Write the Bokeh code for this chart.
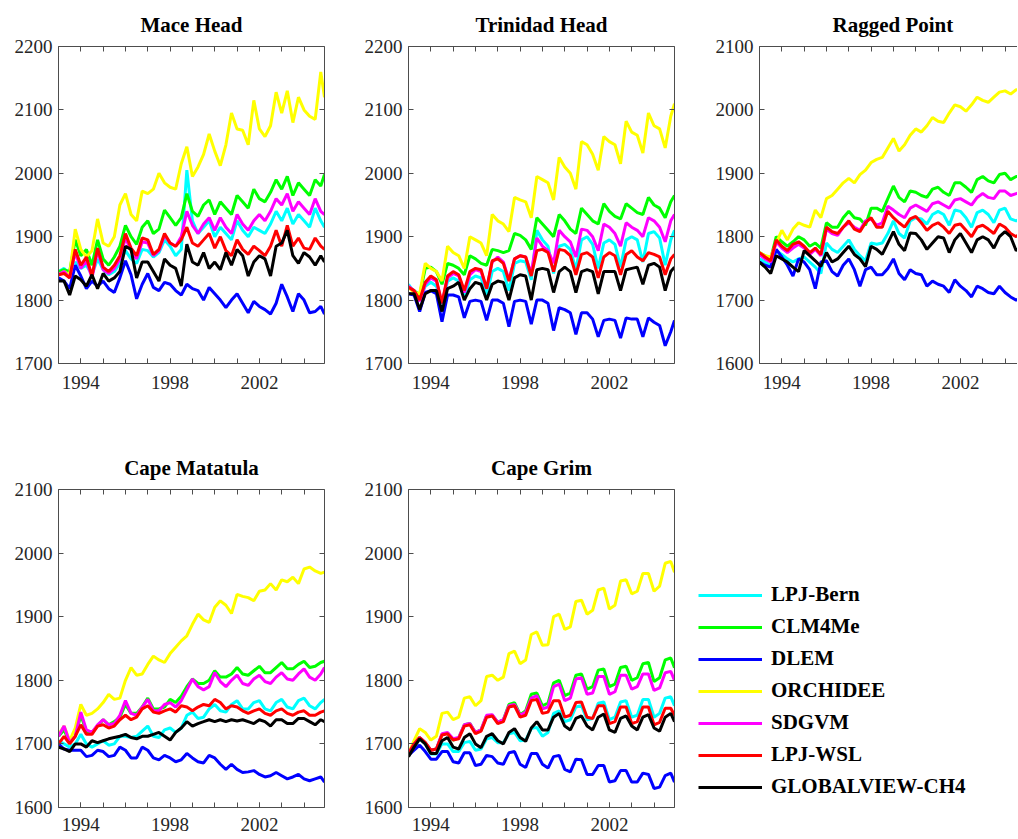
from bokeh.plotting import figure
from bokeh.layouts import column, row
from bokeh.models import (Range1d, LinearAxis, FixedTicker, Legend, LegendItem, Grid,
                          CustomLabelingPolicy)
from bokeh.embed import file_html
from bokeh.resources import INLINE

# ---------------- data (quarterly samples, ppb) ----------------
T = [1993.0, 1993.25, 1993.5, 1993.75, 1994.0, 1994.25, 1994.5, 1994.75,
     1995.0, 1995.25, 1995.5, 1995.75, 1996.0, 1996.25, 1996.5, 1996.75,
     1997.0, 1997.25, 1997.5, 1997.75, 1998.0, 1998.25, 1998.5, 1998.75,
     1999.0, 1999.25, 1999.5, 1999.75, 2000.0, 2000.25, 2000.5, 2000.75,
     2001.0, 2001.25, 2001.5, 2001.75, 2002.0, 2002.25, 2002.5, 2002.75,
     2003.0, 2003.25, 2003.5, 2003.75, 2004.0, 2004.25, 2004.5, 2004.75,
     2004.917]

MODELS = ["LPJ-Bern", "CLM4Me", "DLEM", "ORCHIDEE", "SDGVM", "LPJ-WSL", "GLOBALVIEW-CH4"]
COLORS = ["#00FFFF", "#00FF00", "#0000FF", "#FFFF00", "#FF00FF", "#FF0000", "#000000"]
STATIONS = ["Mace Head", "Trinidad Head", "Ragged Point", "Cape Matatula", "Cape Grim"]
Y_LIMITS = [(1700, 2200), (1700, 2200), (1600, 2100), (1600, 2100), (1600, 2100)]
X_TICKS = [1994, 1998, 2002]
YEAR_TICKS = [1993, 1994, 1995, 1996, 1997, 1998, 1999, 2000, 2001, 2002, 2003, 2004]

# Mace Head
MH_CYAN = [1845,1850,1840,1860, 1850,1855,1840,1865, 1848,1840,1845,1858, 1878,1865,1858,1880, 1878,1868,1875,1895, 1885,1870,1880,2005, 1925,1905,1915,1925, 1900,1915,1905,1895, 1925,1910,1900,1915, 1910,1905,1920,1940, 1925,1945,1920,1935, 1925,1915,1945,1925, 1915]
MH_GREEN = [1845,1848,1845,1895, 1870,1880,1855,1895, 1865,1855,1868,1885, 1918,1900,1888,1915, 1925,1905,1912,1942, 1930,1918,1930,1968, 1940,1932,1950,1958, 1935,1955,1945,1935, 1965,1955,1945,1975, 1960,1955,1970,1990, 1975,1995,1965,1985, 1975,1965,1990,1980, 1998]
MH_BLUE = [1835,1830,1818,1855, 1838,1818,1830,1822, 1830,1818,1812,1835, 1862,1840,1802,1825, 1842,1820,1815,1828, 1825,1815,1808,1825, 1818,1815,1800,1820, 1810,1800,1788,1800, 1810,1795,1780,1798, 1790,1785,1778,1795, 1825,1805,1782,1810, 1800,1780,1782,1790, 1778]
MH_YELLOW = [1840,1845,1840,1912, 1880,1868,1878,1928, 1890,1885,1900,1950, 1968,1935,1925,1972, 1968,1975,2000,1985, 1978,1975,2015,2042, 1995,2010,2030,2062, 2035,2012,2045,2095, 2070,2068,2045,2115, 2070,2058,2075,2128, 2095,2130,2080,2120, 2100,2090,2085,2160, 2120]
MH_MAGENTA = [1840,1845,1835,1875, 1850,1862,1835,1878, 1848,1842,1850,1865, 1898,1878,1865,1892, 1890,1870,1878,1902, 1890,1885,1900,1940, 1918,1905,1920,1930, 1910,1930,1915,1905, 1935,1920,1910,1925, 1935,1925,1940,1960, 1950,1968,1940,1955, 1945,1935,1960,1940, 1935]
MH_RED = [1840,1842,1835,1880, 1855,1868,1838,1882, 1852,1845,1855,1870, 1905,1882,1870,1898, 1895,1872,1880,1905, 1890,1885,1895,1915, 1890,1885,1895,1905, 1882,1900,1878,1870, 1895,1880,1872,1885, 1878,1870,1885,1910, 1885,1918,1885,1898, 1882,1880,1898,1885, 1880]
MH_BLACK = [1830,1830,1808,1838, 1832,1822,1840,1818, 1842,1830,1835,1845, 1885,1880,1835,1860, 1860,1845,1830,1865, 1855,1850,1822,1888, 1860,1855,1875,1850, 1860,1848,1875,1855, 1880,1870,1838,1860, 1870,1865,1838,1885, 1890,1910,1870,1858, 1875,1868,1855,1870, 1860]

# Trinidad Head
TH_CYAN = [1825,1812,1800,1822, 1828,1822,1795,1830, 1835,1830,1805,1832, 1838,1835,1808,1845, 1850,1845,1815,1858, 1862,1860,1832,1910, 1895,1885,1842,1885, 1888,1880,1848,1895, 1900,1888,1850,1890, 1895,1888,1852,1895, 1900,1895,1860,1905, 1908,1898,1855,1895, 1910]
TH_GREEN = [1820,1815,1808,1850, 1852,1845,1825,1858, 1855,1850,1840,1870, 1865,1858,1855,1880, 1878,1875,1878,1905, 1902,1895,1880,1930, 1920,1910,1900,1935, 1925,1912,1905,1945, 1935,1925,1920,1952, 1940,1932,1928,1952, 1945,1938,1935,1962, 1950,1945,1930,1955, 1965]
TH_BLUE = [1810,1808,1782,1812, 1815,1810,1766,1808, 1808,1805,1772,1798, 1800,1798,1768,1800, 1800,1795,1758,1798, 1800,1798,1762,1800, 1800,1795,1752,1788, 1785,1780,1746,1780, 1780,1770,1742,1768, 1770,1768,1740,1772, 1770,1770,1742,1772, 1765,1760,1728,1750, 1768]
TH_YELLOW = [1820,1812,1810,1858, 1850,1845,1830,1885, 1875,1870,1850,1900, 1895,1890,1870,1935, 1925,1920,1908,1962, 1958,1955,1930,1995, 1990,1985,1958,2025, 2010,2000,1975,2050, 2045,2030,2005,2058, 2050,2045,2015,2082, 2065,2060,2032,2095, 2075,2070,2040,2090, 2110]
TH_MAGENTA = [1822,1815,1798,1825, 1835,1830,1795,1835, 1842,1838,1812,1840, 1848,1845,1818,1860, 1868,1860,1832,1865, 1870,1868,1842,1898, 1885,1878,1858,1910, 1900,1892,1868,1912, 1910,1900,1878,1920, 1915,1905,1885,1922, 1915,1910,1900,1930, 1925,1915,1892,1925, 1935]
TH_RED = [1820,1815,1800,1828, 1838,1832,1795,1838, 1845,1840,1815,1845, 1850,1848,1818,1862, 1865,1858,1830,1865, 1870,1868,1838,1878, 1880,1875,1845,1880, 1878,1870,1840,1872, 1875,1868,1835,1868, 1875,1870,1840,1872, 1878,1868,1862,1875, 1872,1868,1840,1865, 1872]
TH_BLACK = [1810,1810,1785,1810, 1815,1815,1782,1818, 1822,1828,1800,1818, 1828,1825,1800,1825, 1830,1828,1800,1835, 1840,1838,1800,1848, 1850,1848,1812,1845, 1852,1845,1812,1845, 1848,1845,1810,1845, 1845,1845,1815,1848, 1850,1852,1825,1855, 1858,1852,1815,1845, 1852]

# Ragged Point
RP_CYAN = [1765,1760,1755,1778, 1772,1765,1760,1765, 1768,1760,1752,1742, 1790,1780,1775,1785, 1795,1780,1770,1762, 1790,1788,1790,1805, 1825,1805,1798,1825, 1830,1828,1820,1835, 1840,1835,1818,1842, 1840,1830,1815,1838, 1842,1835,1822,1842, 1845,1828,1825,1830, 1828]
RP_GREEN = [1775,1770,1765,1800, 1792,1785,1792,1800, 1795,1785,1790,1782, 1822,1815,1815,1830, 1840,1830,1828,1818, 1845,1845,1840,1860, 1880,1862,1855,1872, 1870,1865,1862,1875, 1878,1870,1865,1885, 1885,1878,1870,1890, 1895,1888,1885,1898, 1900,1890,1895,1895, 1892]
RP_BLUE = [1760,1755,1752,1780, 1768,1755,1738,1765, 1760,1748,1718,1760, 1762,1745,1738,1755, 1765,1748,1722,1748, 1752,1740,1740,1750, 1765,1742,1732,1748, 1742,1740,1722,1730, 1725,1722,1712,1732, 1722,1715,1705,1722, 1718,1712,1710,1722, 1712,1705,1700,1705, 1700]
RP_YELLOW = [1775,1770,1768,1790, 1810,1795,1812,1822, 1818,1815,1842,1830, 1860,1865,1875,1885, 1892,1885,1898,1905, 1917,1922,1925,1940, 1955,1935,1945,1960, 1970,1965,1975,1988, 1982,1980,1995,2008, 2005,1998,2008,2020, 2015,2012,2020,2028, 2030,2025,2032,2030, 2035]
RP_MAGENTA = [1772,1765,1760,1792, 1782,1775,1782,1788, 1782,1772,1780,1770, 1812,1805,1802,1815, 1822,1815,1810,1825, 1828,1818,1822,1848, 1842,1835,1830,1845, 1850,1845,1840,1852, 1855,1850,1845,1858, 1860,1855,1850,1862, 1868,1862,1860,1872, 1872,1865,1868,1870, 1868]
RP_RED = [1775,1768,1762,1795, 1785,1778,1788,1792, 1785,1775,1782,1772, 1815,1808,1805,1815, 1825,1812,1808,1822, 1830,1815,1815,1840, 1830,1822,1815,1828, 1832,1822,1810,1818, 1822,1815,1805,1818, 1820,1810,1800,1815, 1818,1812,1805,1820, 1815,1805,1800,1808, 1805]
RP_BLACK = [1760,1752,1742,1770, 1765,1760,1752,1745, 1778,1770,1762,1753, 1775,1760,1765,1775, 1785,1772,1765,1753, 1785,1780,1772,1790, 1808,1788,1778,1806, 1805,1795,1780,1790, 1800,1798,1775,1795, 1805,1790,1775,1795, 1800,1795,1782,1800, 1808,1800,1778,1785, 1795]

# Cape Matatula
CM_CYAN = [1705,1700,1695,1700, 1715,1700,1695,1700, 1705,1698,1700,1712, 1712,1710,1712,1720, 1728,1712,1710,1722, 1725,1718,1725,1745, 1750,1740,1742,1755, 1762,1752,1750,1762, 1768,1755,1755,1765, 1768,1755,1752,1765, 1770,1758,1755,1768, 1772,1760,1755,1765, 1770]
CM_GREEN = [1712,1722,1702,1712, 1745,1720,1718,1728, 1738,1730,1735,1742, 1762,1748,1748,1758, 1772,1755,1755,1758, 1770,1765,1775,1790, 1802,1795,1795,1800, 1815,1805,1805,1810, 1820,1810,1808,1815, 1822,1812,1812,1820, 1828,1818,1818,1825, 1830,1820,1822,1828, 1830]
CM_BLUE = [1700,1692,1690,1690, 1690,1680,1682,1690, 1688,1680,1682,1695, 1690,1678,1678,1695, 1690,1678,1675,1682, 1678,1672,1675,1685, 1678,1672,1670,1682, 1678,1668,1660,1668, 1660,1655,1656,1658, 1652,1648,1650,1655, 1650,1645,1648,1652, 1645,1642,1645,1648, 1640]
CM_YELLOW = [1715,1728,1705,1725, 1762,1745,1748,1755, 1765,1778,1770,1772, 1800,1820,1808,1810, 1825,1838,1832,1828, 1842,1852,1862,1870, 1888,1904,1895,1891, 1915,1925,1918,1905, 1935,1932,1930,1925, 1940,1942,1952,1942, 1958,1955,1962,1952, 1975,1978,1972,1968, 1970]
CM_MAGENTA = [1712,1728,1702,1712, 1750,1722,1718,1730, 1738,1730,1732,1745, 1768,1748,1745,1758, 1770,1752,1752,1762, 1765,1758,1768,1785, 1802,1790,1785,1790, 1812,1798,1790,1800, 1808,1795,1792,1802, 1808,1798,1795,1805, 1812,1802,1800,1810, 1818,1805,1800,1810, 1820]
CM_RED = [1700,1712,1700,1712, 1730,1715,1715,1728, 1730,1725,1728,1738, 1745,1738,1742,1755, 1760,1750,1748,1752, 1755,1750,1760,1758, 1752,1758,1762,1760, 1770,1765,1755,1760, 1758,1752,1748,1752, 1755,1748,1745,1752, 1755,1748,1745,1750, 1752,1745,1745,1750, 1752]
CM_BLACK = [1695,1692,1688,1700, 1700,1695,1705,1702, 1705,1708,1710,1712, 1715,1710,1708,1712, 1712,1715,1718,1712, 1706,1718,1725,1735, 1728,1732,1735,1738, 1735,1738,1735,1738, 1736,1738,1735,1732, 1738,1735,1728,1738, 1738,1732,1732,1740, 1740,1735,1730,1738, 1735]

# Cape Grim
CG_CYAN = [1682,1695,1708,1700, 1684,1684,1700,1700, 1688,1688,1702,1704, 1690,1692,1708,1710, 1702,1702,1716,1718, 1705,1706,1724,1726, 1712,1718,1748,1752, 1735,1738,1758,1760, 1738,1740,1764,1766, 1738,1742,1766,1768, 1742,1745,1770,1770, 1742,1748,1772,1774, 1760]
CG_GREEN = [1685,1700,1710,1702, 1690,1692,1715,1717, 1706,1710,1730,1732, 1718,1722,1744,1745, 1734,1738,1762,1765, 1746,1752,1778,1780, 1760,1764,1796,1800, 1776,1780,1808,1810, 1786,1790,1816,1818, 1790,1794,1820,1822, 1800,1804,1826,1828, 1798,1804,1832,1835, 1820]
CG_BLUE = [1682,1690,1698,1688, 1676,1676,1688,1688, 1672,1670,1686,1686, 1666,1668,1682,1680, 1670,1668,1686,1688, 1668,1663,1685,1685, 1668,1662,1680,1682, 1660,1656,1676,1675, 1652,1652,1666,1666, 1640,1642,1658,1658, 1640,1640,1654,1652, 1630,1632,1650,1654, 1640]
CG_YELLOW = [1685,1705,1724,1718, 1706,1712,1748,1750, 1738,1742,1772,1774, 1760,1768,1806,1808, 1800,1805,1842,1846, 1826,1832,1872,1876, 1855,1856,1900,1904, 1880,1884,1924,1926, 1904,1910,1942,1945, 1912,1918,1956,1958, 1936,1940,1968,1968, 1940,1948,1984,1987, 1970]
CG_MAGENTA = [1685,1700,1710,1702, 1690,1692,1716,1718, 1708,1710,1730,1732, 1718,1722,1745,1746, 1734,1738,1760,1762, 1745,1750,1772,1776, 1755,1758,1790,1794, 1768,1772,1802,1804, 1778,1780,1806,1806, 1778,1782,1808,1808, 1786,1790,1810,1810, 1784,1788,1812,1814, 1800]
CG_RED = [1685,1700,1710,1702, 1690,1692,1714,1716, 1706,1708,1728,1730, 1716,1720,1742,1744, 1732,1735,1758,1760, 1742,1745,1768,1770, 1748,1750,1768,1768, 1742,1745,1765,1766, 1742,1740,1760,1760, 1732,1735,1758,1758, 1732,1735,1758,1758, 1730,1734,1756,1756, 1745]
CG_BLACK = [1680,1695,1708,1700, 1685,1685,1705,1710, 1695,1692,1710,1716, 1700,1694,1712,1716, 1705,1700,1718,1724, 1710,1704,1725,1735, 1722,1722,1742,1748, 1728,1722,1740,1744, 1728,1722,1742,1747, 1722,1718,1740,1744, 1728,1722,1742,1746, 1725,1720,1742,1748, 1735]

SERIES = {
    "Mace Head": [MH_CYAN, MH_GREEN, MH_BLUE, MH_YELLOW, MH_MAGENTA, MH_RED, MH_BLACK],
    "Trinidad Head": [TH_CYAN, TH_GREEN, TH_BLUE, TH_YELLOW, TH_MAGENTA, TH_RED, TH_BLACK],
    "Ragged Point": [RP_CYAN, RP_GREEN, RP_BLUE, RP_YELLOW, RP_MAGENTA, RP_RED, RP_BLACK],
    "Cape Matatula": [CM_CYAN, CM_GREEN, CM_BLUE, CM_YELLOW, CM_MAGENTA, CM_RED, CM_BLACK],
    "Cape Grim": [CG_CYAN, CG_GREEN, CG_BLUE, CG_YELLOW, CG_MAGENTA, CG_RED, CG_BLACK],
}

# ---------------- styling ----------------
FONT = "Liberation Serif"
AXIS_COLOR = "#4d4d4d"
LABEL_COLOR = "#262626"
PX_PER_YEAR = 266 / 11.917

HIDE_ALL = CustomLabelingPolicy(code="""
const all = [...indices]
for (const i of all) indices.unset(i)
return indices
""")


def style_axis(ax, labels, standoff=5):
    ax.axis_line_color = AXIS_COLOR
    ax.axis_line_width = 1
    ax.major_tick_line_color = AXIS_COLOR
    ax.minor_tick_line_color = AXIS_COLOR
    ax.major_tick_in = 5
    ax.major_tick_out = 0
    ax.minor_tick_in = 5
    ax.minor_tick_out = 0
    if labels:
        ax.major_label_text_font = FONT
        ax.major_label_text_font_size = "19px"
        ax.major_label_text_color = LABEL_COLOR
        ax.major_label_standoff = standoff
    else:
        ax.major_label_text_font_size = "0px"
        ax.major_label_standoff = 0
        ax.major_label_policy = HIDE_ALL


def make_panel(name, width, height, bl, br, bt, bb, xstand, right_axis=True, title_offset=None):
    ylo, yhi = Y_LIMITS[STATIONS.index(name)]
    frame_w = width - bl - br
    x_end = 1993.0 + frame_w / PX_PER_YEAR
    p = figure(width=width, height=height,
               x_range=Range1d(1993.0, x_end), y_range=Range1d(ylo, yhi),
               output_backend="svg", toolbar_location=None,
               x_axis_location=None, y_axis_location=None,
               min_border_left=bl, min_border_right=br,
               min_border_top=bt, min_border_bottom=bb)
    for r in list(p.center):
        if isinstance(r, Grid):
            r.visible = False
    p.outline_line_color = None
    p.background_fill_color = "white"
    p.border_fill_color = "white"

    yt = list(range(ylo, yhi + 1, 100))
    bottom = LinearAxis(ticker=FixedTicker(ticks=X_TICKS, minor_ticks=YEAR_TICKS))
    style_axis(bottom, True, xstand)
    p.add_layout(bottom, "below")
    top = LinearAxis(ticker=FixedTicker(ticks=YEAR_TICKS))
    style_axis(top, False)
    p.add_layout(top, "above")
    left = LinearAxis(ticker=FixedTicker(ticks=yt))
    style_axis(left, True, 6)
    p.add_layout(left, "left")
    if right_axis:
        right = LinearAxis(ticker=FixedTicker(ticks=yt))
        style_axis(right, False)
        p.add_layout(right, "right")

    p.title.text = name
    p.title.text_font = FONT
    p.title.text_font_style = "bold"
    p.title.text_font_size = "21px"
    p.title.text_color = "black"
    p.title.standoff = 20
    if title_offset is None:
        p.title.align = "center"
    else:
        p.title.align = "left"
        p.title.offset = title_offset

    for vals, color in zip(SERIES[name], COLORS):
        p.line(T, vals, line_color=color, line_width=3)
    return p


H1 = 393
H2 = 445
p1 = make_panel("Mace Head", 358, H1, 58, 34, 45, 30, 12)
p2 = make_panel("Trinidad Head", 350, H1, 50, 34, 45, 30, 12)
p3 = make_panel("Ragged Point", 309, H1, 51, 0, 45, 30, 12, right_axis=False, title_offset=73)
p4 = make_panel("Cape Matatula", 358, H2, 58, 34, 96, 31, 10)
p5 = make_panel("Cape Grim", 332, H2, 50, 16, 96, 31, 10)

lg = figure(width=327, height=H2, x_range=Range1d(0, 1), y_range=Range1d(0, 1),
            output_backend="svg", toolbar_location=None,
            x_axis_location=None, y_axis_location=None,
            min_border_left=0, min_border_top=96, min_border_right=0, min_border_bottom=31)
for r in list(lg.center):
    if isinstance(r, Grid):
        r.visible = False
lg.outline_line_color = None
items = []
for m, c in zip(MODELS, COLORS):
    r = lg.line(x=[-10, -9], y=[-10, -9], line_color=c, line_width=3)
    items.append(LegendItem(label=m, renderers=[r]))
legend = Legend(items=items, location=(8, 8), orientation="vertical",
                label_text_font=FONT, label_text_font_style="bold",
                label_text_font_size="21px", label_text_color="black",
                glyph_width=64, glyph_height=20, label_height=20,
                spacing=7, padding=0, margin=0, label_standoff=9,
                border_line_color=None, background_fill_alpha=0)
lg.add_layout(legend)

layout = column(row(p1, p2, p3), row(p4, p5, lg))

open("out.html", "w").write(file_html(layout, INLINE))
